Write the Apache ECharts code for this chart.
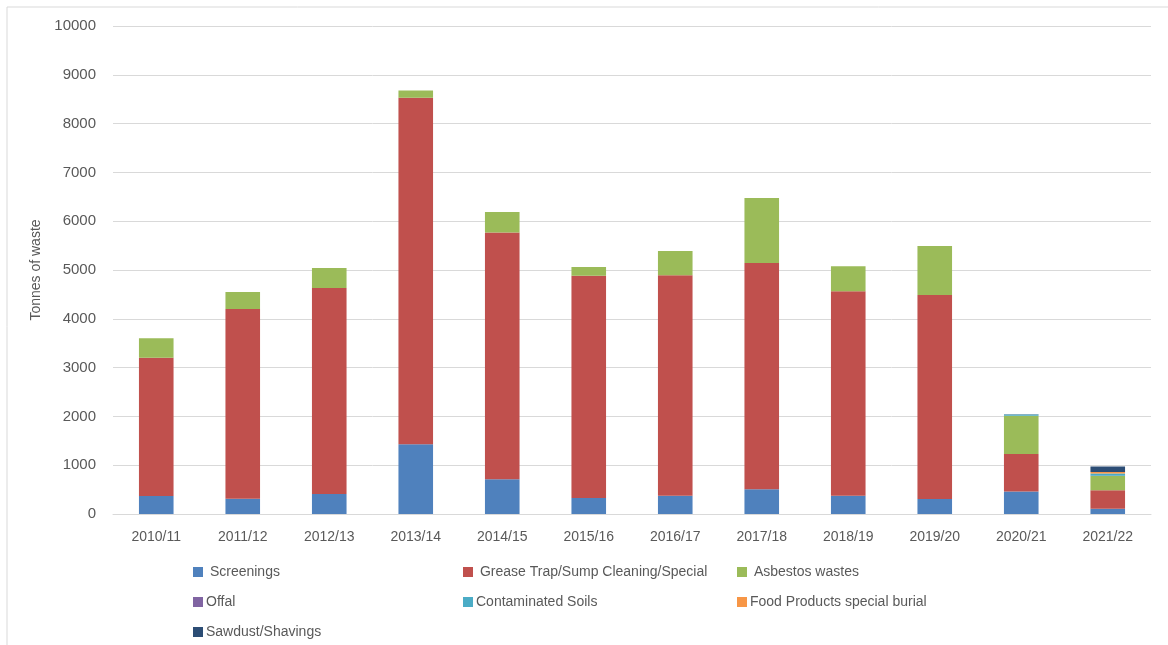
<!DOCTYPE html>
<html><head><meta charset="utf-8">
<script src="https://cdn.jsdelivr.net/npm/echarts@6/dist/echarts.min.js"></script>
<style>html,body{margin:0;padding:0;background:#fff}#c{width:1168px;height:645px}</style>
</head><body><div id="c"></div>
<script>
const categories = ['2010/11','2011/12','2012/13','2013/14','2014/15','2015/16','2016/17','2017/18','2018/19','2019/20','2020/21','2021/22'];
const seriesNames = ['Screenings','Grease Trap/Sump Cleaning/Special','Asbestos wastes','Offal','Contaminated Soils','Food Products special burial','Sawdust/Shavings'];
const screenings   = [370, 310, 410, 1430, 710, 330, 375, 505, 375, 305, 460, 110];
const greaseTrap   = [2830, 3890, 4220, 7100, 5060, 4550, 4515, 4640, 4190, 4185, 770, 375];
const asbestos     = [400, 350, 410, 150, 420, 180, 500, 1330, 510, 1000, 785, 295];
const offal        = [0, 0, 0, 0, 0, 0, 0, 0, 0, 0, 0, 5];
const contamSoils  = [0, 0, 0, 0, 0, 0, 0, 0, 0, 0, 25, 45];
const foodProducts = [0, 0, 0, 0, 0, 0, 0, 0, 0, 0, 0, 30];
const sawdust      = [0, 0, 0, 0, 0, 0, 0, 0, 0, 0, 5, 115];
const yTicks = [0,1000,2000,3000,4000,5000,6000,7000,8000,9000,10000];

const colors = ['#4f81bd','#c0504d','#9bbb59','#8064a2','#4bacc6','#f79646','#2c4d75'];
const values = [screenings, greaseTrap, asbestos, offal, contamSoils, foodProducts, sawdust];
const labels = [' Screenings',' Grease Trap/Sump Cleaning/Special',' Asbestos wastes','Offal','Contaminated Soils','Food Products special burial','Sawdust/Shavings'];
const legendPos = [[188,560],[458,560],[732,560],[188,590],[458,590],[732,590],[188,620]];
const font = '"Liberation Sans", "Noto Sans", sans-serif';

const chart = echarts.init(document.getElementById('c'), null, {renderer:'canvas'});
chart.setOption({
  animation:false,
  textStyle:{fontFamily:font},
  color: colors,
  graphic:[{type:'rect', shape:{x:7,y:7,width:1200,height:700}, style:{fill:'none',stroke:'#d9d9d9',lineWidth:1}, silent:true}],
  grid:{left:113, right:17, top:26, bottom:131},
  legend: seriesNames.map((n,i)=>({
    data:[n], left:legendPos[i][0], top:legendPos[i][1],
    itemWidth:10, itemHeight:10, icon:'rect', itemGap:4,
    formatter: ()=>labels[i],
    textStyle:{fontSize:14, color:'#595959', fontFamily:font, padding:[0,0,0,-2]}
  })),
  xAxis:{type:'category', data:categories,
    axisLine:{lineStyle:{color:'#d9d9d9'}}, axisTick:{show:false},
    axisLabel:{fontSize:14, color:'#595959', margin:16}},
  yAxis:{type:'value', min:0, max:10000, interval:1000,
    name:'Tonnes of waste', nameLocation:'middle', nameGap:68, nameRotate:90,
    nameTextStyle:{fontSize:14, color:'#595959'},
    axisLabel:{fontSize:15, color:'#595959', margin:17, formatter:v=>yTicks.includes(v)?String(v):''},
    axisLine:{show:false}, axisTick:{show:false},
    splitLine:{lineStyle:{color:'#d9d9d9', width:1}}},
  series: seriesNames.map((n,i)=>({
    name:n, type:'bar', stack:'total', data:values[i], barWidth:'40%',
    itemStyle:{color:colors[i]}
  }))
});
</script></body></html>
